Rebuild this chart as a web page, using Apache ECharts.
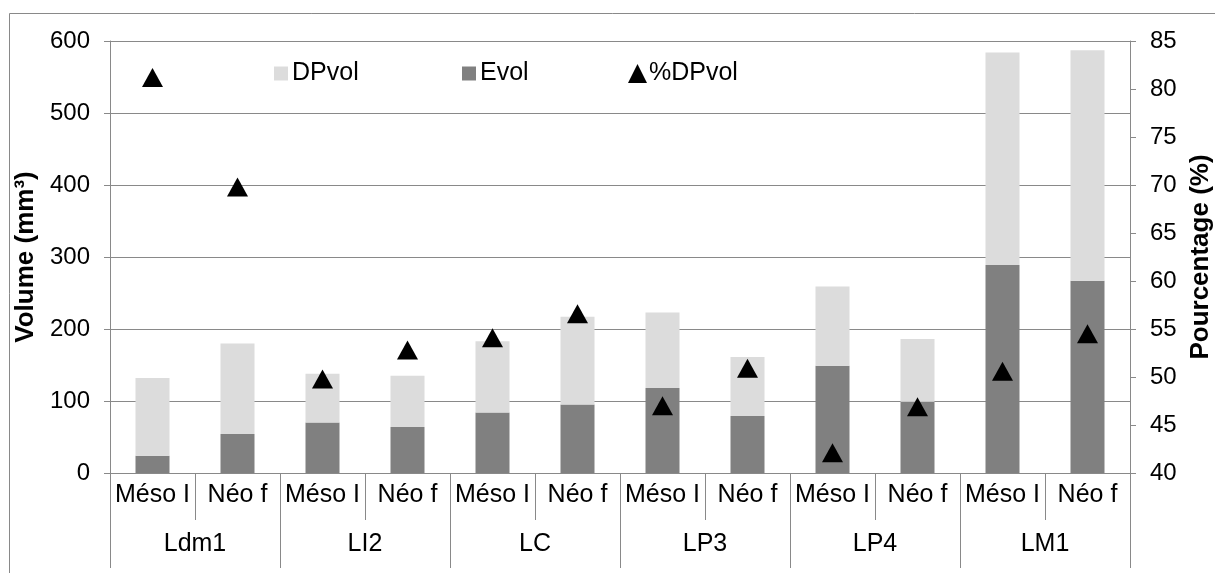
<!DOCTYPE html>
<html>
<head>
<meta charset="utf-8">
<script src="https://cdn.jsdelivr.net/npm/echarts@6/dist/echarts.min.js"></script>
<style>
html,body{margin:0;padding:0;background:#fff;}
#chart{width:1215px;height:573px;}
</style>
</head>
<body>
<div id="chart"></div>
<script>
// ---- data ----
const subCategories = ['Méso I','Néo f','Méso I','Néo f','Méso I','Néo f','Méso I','Néo f','Méso I','Néo f','Méso I','Néo f'];
const groups = ['Ldm1','LI2','LC','LP3','LP4','LM1'];
const evol   = [24, 54, 70, 64, 84, 95, 118, 79, 149, 99, 289, 267];
const dpvol  = [108, 126, 68, 71, 99, 122, 105, 82, 110, 87, 295, 320];
const pctDpvol = [81.2, 69.8, 49.8, 52.8, 54.1, 56.6, 47.0, 50.9, 42.1, 46.9, 50.6, 54.5];
const leftTicks = {min:0, max:600, interval:100};
const rightTicks = {min:40, max:85, interval:5};

const FONT = '"Liberation Sans", Arial, sans-serif';
const GRAY = '#898989';
const LEG = {fontSize:25, color:'#000', fontFamily:FONT};

const chart = echarts.init(document.getElementById('chart'), null, {renderer:'canvas'});
chart.setOption({
  animation:false,
  backgroundColor:'#fff',
  textStyle:{fontFamily:FONT},
  graphic:[{type:'rect', shape:{x:9.5,y:13.5,width:1400,height:800}, style:{fill:'none',stroke:GRAY,lineWidth:1}, silent:true, z:-10}],
  grid:{left:110, right:85, top:41, bottom:100, containLabel:false, outerBoundsMode:'none'},
  legend:[
    {data:[{name:'DPvol', icon:'rect'}], left:274, top:61, padding:0, itemWidth:14, itemHeight:14, itemGap:6, textStyle:Object.assign({padding:[0,0,0,-1]},LEG)},
    {data:[{name:'Evol', icon:'rect'}], left:462, top:61, padding:0, itemWidth:14, itemHeight:14, itemGap:6, textStyle:Object.assign({padding:[0,0,0,-1]},LEG)},
    {data:['%DPvol'], left:628, top:61, padding:0, itemWidth:19, itemHeight:19, textStyle:Object.assign({padding:[0,0,0,-3]},LEG)}
  ],
  xAxis:[
    {type:'category', data:subCategories, position:'bottom',
     axisLine:{lineStyle:{color:GRAY,width:1}},
     axisTick:{show:true, interval:0, length:47, lineStyle:{color:GRAY}},
     axisLabel:{interval:0, margin:10, fontSize:25, color:'#000', fontFamily:FONT},
     splitLine:{show:false}},
    {type:'category', data:groups, position:'bottom',
     axisLine:{lineStyle:{color:GRAY,width:1}},
     axisTick:{show:true, interval:0, length:95, lineStyle:{color:GRAY}},
     axisLabel:{interval:0, margin:59, fontSize:25, color:'#000', fontFamily:FONT},
     splitLine:{show:false}}
  ],
  yAxis:[
    {type:'value', min:leftTicks.min, max:leftTicks.max, interval:leftTicks.interval, position:'left',
     name:'Volume (mm³)', nameLocation:'middle', nameGap:60, nameRotate:90,
     nameTextStyle:{fontSize:26, fontWeight:'bold', color:'#000', fontFamily:FONT},
     axisLine:{show:true, lineStyle:{color:GRAY}},
     axisTick:{show:true, length:6, lineStyle:{color:GRAY}},
     axisLabel:{fontSize:24, color:'#000', margin:20, fontFamily:FONT},
     splitLine:{show:true, lineStyle:{color:GRAY,width:1}}},
    {type:'value', min:rightTicks.min, max:rightTicks.max, interval:rightTicks.interval, position:'right',
     name:'Pourcentage (%)', nameLocation:'middle', nameGap:58, nameRotate:90,
     nameTextStyle:{fontSize:26, fontWeight:'bold', color:'#000', fontFamily:FONT},
     axisLine:{show:true, lineStyle:{color:GRAY}},
     axisTick:{show:true, length:6, lineStyle:{color:GRAY}},
     axisLabel:{fontSize:24, color:'#000', margin:20, fontFamily:FONT},
     splitLine:{show:false}}
  ],
  series:[
    {name:'Evol', type:'bar', stack:'v', data:evol, barWidth:34, itemStyle:{color:'#808080'}, xAxisIndex:0, yAxisIndex:0},
    {name:'DPvol', type:'bar', stack:'v', data:dpvol, barWidth:34, itemStyle:{color:'#dcdcdc'}, xAxisIndex:0, yAxisIndex:0},
    {name:'%DPvol', type:'scatter', data:pctDpvol, symbol:'triangle', symbolSize:[21,19], itemStyle:{color:'#000', opacity:1}, xAxisIndex:0, yAxisIndex:1, z:5}
  ]
});
</script>
</body>
</html>
